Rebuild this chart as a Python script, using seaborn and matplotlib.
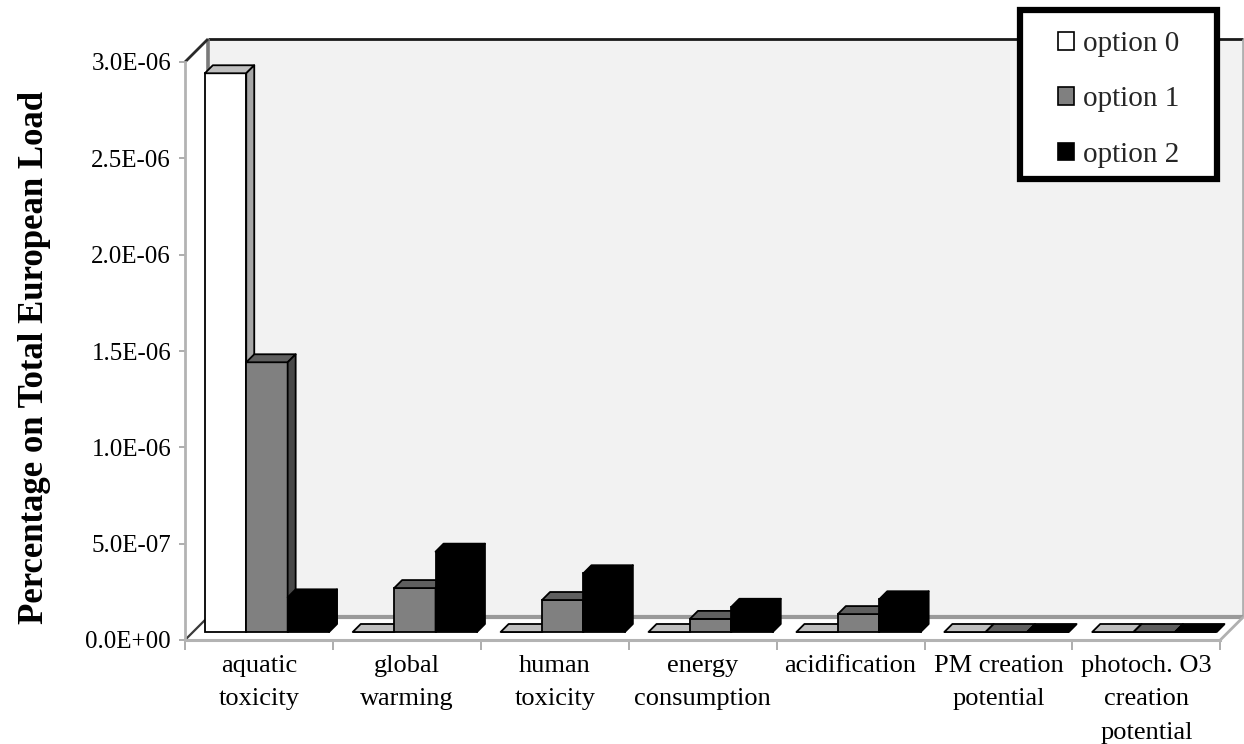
import numpy as np
import pandas as pd
import seaborn as sns
import matplotlib.pyplot as plt
from matplotlib.patches import Polygon, Rectangle, Patch
from matplotlib.lines import Line2D

# ---------------- data ----------------
categories = ["aquatic\ntoxicity", "global\nwarming", "human\ntoxicity",
              "energy\nconsumption", "acidification", "PM creation\npotential",
              "photoch. O3\ncreation\npotential"]
options = ["option 0", "option 1", "option 2"]
option0 = [2.90e-6, 0.0, 0.0, 0.0, 0.0, 0.0, 0.0]
option1 = [1.40e-6, 2.28e-7, 1.66e-7, 6.8e-8, 9.3e-8, 0.0, 0.0]
option2 = [1.80e-7, 4.17e-7, 3.05e-7, 1.31e-7, 1.70e-7, 0.0, 0.0]
yticks = [0.0, 5e-7, 1.0e-6, 1.5e-6, 2.0e-6, 2.5e-6, 3.0e-6]
ytick_labels = ["0.0E+00", "5.0E-07", "1.0E-06", "1.5E-06", "2.0E-06", "2.5E-06", "3.0E-06"]
ylabel = "Percentage on Total European Load"

# ---------------- styling ----------------
front_colors = ["#ffffff", "#808080", "#000000"]
top_colors = ["#c0c0c0", "#5f5f5f", "#000000"]
side_colors = ["#a6a6a6", "#474747", "#000000"]

sns.set_theme(style="white")
plt.rcParams["font.family"] = ["Liberation Serif", "DejaVu Serif"]

df = pd.DataFrame({
    "category": np.repeat(categories, 3),
    "option": options * len(categories),
    "value": np.ravel(np.column_stack([option0, option1, option2])),
})

W, H, DPI = 1244, 744, 100
fig = plt.figure(figsize=(W / DPI, H / DPI), dpi=DPI)
# axes: left at px 185, y=0 at row 640, top at row 20
ax_left, ax_bottom_row, ax_top_row = 185, 640, 20
ax = fig.add_axes([ax_left / W, (H - ax_bottom_row) / H, (W - ax_left) / W,
                   (ax_bottom_row - ax_top_row) / H])
ax.set_facecolor("none")

PXU = 147.9                 # pixels per category
VPP = 3e-6 / 578.0          # value per pixel

sns.barplot(data=df, x="category", y="value", hue="option", order=categories,
            hue_order=options, palette=dict(zip(options, front_colors)),
            saturation=1, width=0.84, edgecolor="black", linewidth=1.3,
            legend=False, ax=ax)

ax.set_xlim(-0.5, -0.5 + (W - ax_left) / PXU)
ax.set_ylim(0, (ax_bottom_row - ax_top_row) * VPP)

n = len(categories)
x0, x1 = -0.5, n - 0.5
ymax = yticks[-1]
wdx, wdy = 23 / PXU, 23 * VPP       # wall depth
fdx, fdy = 8 / PXU, 8 * VPP         # bar front offset
bdx, bdy = 8 / PXU, 8 * VPP         # bar depth

# walls
ax.add_patch(Polygon([(x0 + wdx, wdy), (x1 + wdx, wdy), (x1 + wdx, ymax + wdy), (x0 + wdx, ymax + wdy)],
                     closed=True, facecolor="#f2f2f2", edgecolor="none", zorder=0.5, clip_on=False))
ax.add_patch(Polygon([(x0, 0), (x1, 0), (x1 + wdx, wdy), (x0 + wdx, wdy)],
                     closed=True, facecolor="white", edgecolor="none", zorder=0.5, clip_on=False))
ax.add_patch(Polygon([(x0, 0), (x0, ymax), (x0 + wdx, ymax + wdy), (x0 + wdx, wdy)],
                     closed=True, facecolor="white", edgecolor="none", zorder=0.5, clip_on=False))

def line(xs, ys, color, lw, z=1.0):
    ax.add_line(Line2D(xs, ys, color=color, lw=lw, zorder=z, clip_on=False,
                       solid_capstyle="butt"))

line([x0 + wdx, x1 + wdx], [ymax + wdy, ymax + wdy], "#1a1a1a", 2.0)         # back top
line([x0 + wdx, x0 + wdx], [wdy, ymax + wdy], "#7a7a7a", 2.6)                # back left
line([x1 + wdx, x1 + wdx], [wdy, ymax + wdy], "#b0b0b0", 2.0)                # back right
line([x0 + wdx, x1 + wdx], [wdy, wdy], "#9a9a9a", 3.0)                       # floor back
line([x0, x0 + wdx], [ymax, ymax + wdy], "#2a2a2a", 2.0)                     # left wall top
line([x0, x0 + wdx], [0, wdy], "#3a3a3a", 1.6)                               # floor left
line([x1, x1 + wdx], [0, wdy], "#b0b0b0", 2.0)                               # floor right

# bars: move front faces to their depth and add top/side faces
bars = []
for k, cont in enumerate(ax.containers):
    for p in cont.patches:
        bars.append((p.get_x(), k, p))
bars.sort(key=lambda t: (round(t[0], 6)))
for rank, (_, k, p) in enumerate(bars):
    x, w, h = p.get_x() + fdx, p.get_width(), p.get_height()
    p.set_x(x)
    p.set_y(fdy)
    z = 3 + rank * 0.01
    p.set_zorder(z)
    b = fdy
    top = Polygon([(x, b + h), (x + w, b + h), (x + w + bdx, b + h + bdy), (x + bdx, b + h + bdy)],
                  closed=True, facecolor=top_colors[k], edgecolor="black", lw=1.3,
                  joinstyle="round", zorder=z + 0.001)
    side = Polygon([(x + w, b), (x + w + bdx, b + bdy), (x + w + bdx, b + h + bdy), (x + w, b + h)],
                   closed=True, facecolor=side_colors[k], edgecolor="black", lw=1.3,
                   joinstyle="round", zorder=z + 0.002)
    ax.add_patch(top)
    ax.add_patch(side)

# axes / ticks
for s in ["top", "right"]:
    ax.spines[s].set_visible(False)
ax.spines["left"].set_bounds(0, ymax)
ax.spines["left"].set_color("#b3b3b3")
ax.spines["left"].set_linewidth(2.0)
ax.spines["bottom"].set_bounds(x0, x1)
ax.spines["bottom"].set_color("#b3b3b3")
ax.spines["bottom"].set_linewidth(2.2)

ax.set_yticks(yticks)
ax.set_yticklabels(ytick_labels)
ax.tick_params(axis="y", which="major", direction="out", length=4, width=1.2,
               color="#a0a0a0", pad=6, labelsize=18, labelcolor="black", left=True)
ax.set_xticks(range(n))
ax.set_xticklabels(categories, linespacing=1.66)
ax.set_xticks(np.arange(n + 1) - 0.5, minor=True)
ax.tick_params(axis="x", which="major", length=0, pad=11, labelsize=19, labelcolor="black")
ax.tick_params(axis="x", which="minor", direction="out", length=7, width=1.2,
               color="#a0a0a0", bottom=True)
ax.set_xlabel("")
ax.set_ylabel(ylabel, fontsize=25, fontweight="bold", color="black")
ax.yaxis.set_label_coords((51 - ax_left) / (W - ax_left), (ax_bottom_row - 357) / (ax_bottom_row - ax_top_row))
ax.grid(False)

# legend
bx0, by0, bx1, by1 = 1020, 10, 1217, 179
fig.patches.append(Rectangle((bx0 / W, 1 - by1 / H), (bx1 - bx0) / W, (by1 - by0) / H,
                             transform=fig.transFigure, facecolor="white", edgecolor="black",
                             lw=4.5, zorder=5))
handles = [Patch(facecolor=c, edgecolor="black", lw=1.2) for c in front_colors]
leg = fig.legend(handles, options, loc="center",
                 bbox_to_anchor=((bx0 + bx1) / 2 / W, 1 - ((by0 + by1) / 2 + 5) / H),
                 frameon=False, prop={"family": "Liberation Serif", "size": 21},
                 handlelength=0.55, handleheight=0.55, handletextpad=0.3,
                 labelspacing=1.0, borderpad=0)
leg.set_zorder(6)

fig.savefig("out.png", dpi=DPI)
